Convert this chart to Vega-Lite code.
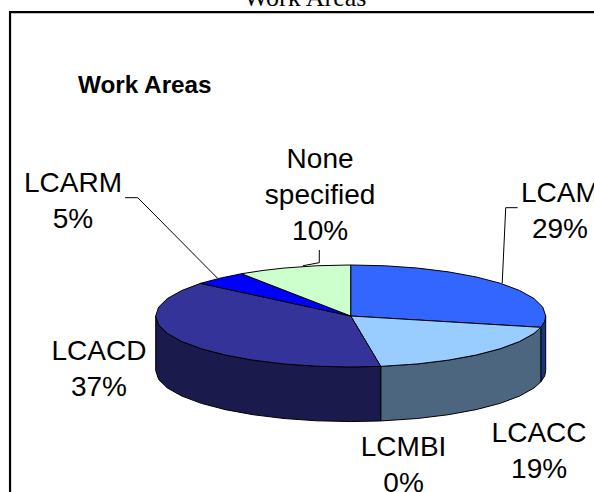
{"$schema":"https://vega.github.io/schema/vega-lite/v6.json","width":594,"height":492,"padding":0,"autosize":{"type":"none"},"background":"white","view":{"stroke":null},
"datasets":{"pie":[
{"piece":"LCAM side","i":0,"x":100,"y":0},{"piece":"LCAM side","i":1,"x":99.5,"y":-10.5},{"piece":"LCAM side","i":2,"x":97.5,"y":-22.2},{"piece":"LCAM side","i":3,"x":97.5,"y":-129.2},{"piece":"LCAM side","i":4,"x":99.5,"y":-117.5},{"piece":"LCAM side","i":5,"x":100,"y":-107},{"piece":"LCAM side","i":6,"x":100,"y":0},
{"piece":"LCACC side","i":0,"x":97.5,"y":-22.2},{"piece":"LCACC side","i":1,"x":94,"y":-34.2},{"piece":"LCACC side","i":2,"x":86.6,"y":-50},{"piece":"LCACC side","i":3,"x":76.6,"y":-64.3},{"piece":"LCACC side","i":4,"x":64.3,"y":-76.6},{"piece":"LCACC side","i":5,"x":50,"y":-86.6},{"piece":"LCACC side","i":6,"x":34.2,"y":-94},{"piece":"LCACC side","i":7,"x":15.4,"y":-98.8},{"piece":"LCACC side","i":8,"x":15.4,"y":-205.8},{"piece":"LCACC side","i":9,"x":34.2,"y":-201},{"piece":"LCACC side","i":10,"x":50,"y":-193.6},{"piece":"LCACC side","i":11,"x":64.3,"y":-183.6},{"piece":"LCACC side","i":12,"x":76.6,"y":-171.3},{"piece":"LCACC side","i":13,"x":86.6,"y":-157},{"piece":"LCACC side","i":14,"x":94,"y":-141.2},{"piece":"LCACC side","i":15,"x":97.5,"y":-129.2},{"piece":"LCACC side","i":16,"x":97.5,"y":-22.2},
{"piece":"LCACD side","i":0,"x":15.4,"y":-98.8},{"piece":"LCACD side","i":1,"x":0,"y":-100},{"piece":"LCACD side","i":2,"x":-17.4,"y":-98.5},{"piece":"LCACD side","i":3,"x":-34.2,"y":-94},{"piece":"LCACD side","i":4,"x":-50,"y":-86.6},{"piece":"LCACD side","i":5,"x":-64.3,"y":-76.6},{"piece":"LCACD side","i":6,"x":-76.6,"y":-64.3},{"piece":"LCACD side","i":7,"x":-86.6,"y":-50},{"piece":"LCACD side","i":8,"x":-94,"y":-34.2},{"piece":"LCACD side","i":9,"x":-98.5,"y":-17.4},{"piece":"LCACD side","i":10,"x":-100,"y":0},{"piece":"LCACD side","i":11,"x":-100,"y":-107},{"piece":"LCACD side","i":12,"x":-98.5,"y":-124.4},{"piece":"LCACD side","i":13,"x":-94,"y":-141.2},{"piece":"LCACD side","i":14,"x":-86.6,"y":-157},{"piece":"LCACD side","i":15,"x":-76.6,"y":-171.3},{"piece":"LCACD side","i":16,"x":-64.3,"y":-183.6},{"piece":"LCACD side","i":17,"x":-50,"y":-193.6},{"piece":"LCACD side","i":18,"x":-34.2,"y":-201},{"piece":"LCACD side","i":19,"x":-17.4,"y":-205.5},{"piece":"LCACD side","i":20,"x":0,"y":-207},{"piece":"LCACD side","i":21,"x":15.4,"y":-205.8},{"piece":"LCACD side","i":22,"x":15.4,"y":-98.8},
{"piece":"LCAM","i":0,"x":0,"y":0},{"piece":"LCAM","i":1,"x":0,"y":100},{"piece":"LCAM","i":2,"x":17.4,"y":98.5},{"piece":"LCAM","i":3,"x":34.2,"y":94},{"piece":"LCAM","i":4,"x":50,"y":86.6},{"piece":"LCAM","i":5,"x":64.3,"y":76.6},{"piece":"LCAM","i":6,"x":76.6,"y":64.3},{"piece":"LCAM","i":7,"x":86.6,"y":50},{"piece":"LCAM","i":8,"x":94,"y":34.2},{"piece":"LCAM","i":9,"x":98.5,"y":17.4},{"piece":"LCAM","i":10,"x":100,"y":0},{"piece":"LCAM","i":11,"x":99.5,"y":-10.5},{"piece":"LCAM","i":12,"x":97.5,"y":-22.2},{"piece":"LCAM","i":13,"x":0,"y":0},
{"piece":"LCACC","i":0,"x":0,"y":0},{"piece":"LCACC","i":1,"x":97.5,"y":-22.2},{"piece":"LCACC","i":2,"x":94,"y":-34.2},{"piece":"LCACC","i":3,"x":86.6,"y":-50},{"piece":"LCACC","i":4,"x":76.6,"y":-64.3},{"piece":"LCACC","i":5,"x":64.3,"y":-76.6},{"piece":"LCACC","i":6,"x":50,"y":-86.6},{"piece":"LCACC","i":7,"x":34.2,"y":-94},{"piece":"LCACC","i":8,"x":15.4,"y":-98.8},{"piece":"LCACC","i":9,"x":0,"y":0},
{"piece":"LCACD","i":0,"x":0,"y":0},{"piece":"LCACD","i":1,"x":15.4,"y":-98.8},{"piece":"LCACD","i":2,"x":0,"y":-100},{"piece":"LCACD","i":3,"x":-17.4,"y":-98.5},{"piece":"LCACD","i":4,"x":-34.2,"y":-94},{"piece":"LCACD","i":5,"x":-50,"y":-86.6},{"piece":"LCACD","i":6,"x":-64.3,"y":-76.6},{"piece":"LCACD","i":7,"x":-76.6,"y":-64.3},{"piece":"LCACD","i":8,"x":-86.6,"y":-50},{"piece":"LCACD","i":9,"x":-94,"y":-34.2},{"piece":"LCACD","i":10,"x":-98.5,"y":-17.4},{"piece":"LCACD","i":11,"x":-100,"y":0},{"piece":"LCACD","i":12,"x":-98.5,"y":17.4},{"piece":"LCACD","i":13,"x":-94,"y":34.2},{"piece":"LCACD","i":14,"x":-86.6,"y":50},{"piece":"LCACD","i":15,"x":-77,"y":64},{"piece":"LCACD","i":16,"x":0,"y":0},
{"piece":"LCARM","i":0,"x":0,"y":0},{"piece":"LCARM","i":1,"x":-77,"y":64},{"piece":"LCARM","i":2,"x":-67,"y":74.2},{"piece":"LCARM","i":3,"x":-56,"y":82.9},{"piece":"LCARM","i":4,"x":0,"y":0},
{"piece":"None specified","i":0,"x":0,"y":0},{"piece":"None specified","i":1,"x":-56,"y":82.9},{"piece":"None specified","i":2,"x":-45,"y":89.3},{"piece":"None specified","i":3,"x":-34.2,"y":94},{"piece":"None specified","i":4,"x":-17.4,"y":98.5},{"piece":"None specified","i":5,"x":0,"y":100},{"piece":"None specified","i":6,"x":0,"y":0}
],
"leaders":[
{"s":"frame","i":0,"x":-174.7,"y":-345.1},{"s":"frame","i":1,"x":-174.7,"y":596},{"s":"frame","i":2,"x":124.77,"y":596},
{"s":"LCARM","i":0,"x":-115.7,"y":232},{"s":"LCARM","i":1,"x":-109.2,"y":232},{"s":"LCARM","i":2,"x":-68.4,"y":74.5},
{"s":"None","i":0,"x":-16.1,"y":129.4},{"s":"None","i":1,"x":-16.1,"y":104.5},{"s":"None","i":2,"x":-24.5,"y":98.6},
{"s":"LCAM","i":0,"x":85.6,"y":212.4},{"s":"LCAM","i":1,"x":79.5,"y":212.4},{"s":"LCAM","i":2,"x":77.7,"y":64.1}
],
"labels":[
{"t":"LCARM\n5%","x":-142.4,"y":243.7},{"t":"None\nspecified\n10%","x":-15.7,"y":290.2},{"t":"LCAM\n29%","x":107.3,"y":224.1},{"t":"LCACD\n37%","x":-129.1,"y":-86.3},{"t":"LCMBI\n0%","x":27.1,"y":-273.9},{"t":"LCACC\n19%","x":96.6,"y":-246.5}
]},
"layer":[
{"data":{"name":"leaders"},"transform":[{"filter":"datum.s === 'frame'"}],"mark":{"type":"line","stroke":"black","strokeWidth":2.2,"clip":true},"encoding":{"x":{"field":"x","type":"quantitative","scale":{"domain":[-179.85,124.77]},"axis":null},"y":{"field":"y","type":"quantitative","scale":{"domain":[-345.1,619.6]},"axis":null},"order":{"field":"i"},"detail":{"field":"s"}}},
{"data":{"name":"pie"},"mark":{"type":"line","stroke":"black","strokeWidth":1,"strokeJoin":"round"},"encoding":{"x":{"field":"x","type":"quantitative","scale":{"domain":[-179.85,124.77]},"axis":null},"y":{"field":"y","type":"quantitative","scale":{"domain":[-345.1,619.6]},"axis":null},"order":{"field":"i"},"detail":{"field":"piece"},"fill":{"field":"piece","type":"nominal","legend":null,"sort":null,"scale":{"domain":["LCAM side","LCACC side","LCACD side","LCAM","LCACC","LCACD","LCARM","None specified"],"range":["#1a3380","#4d6680","#1a1a4d","#3366ff","#99ccff","#333399","#0000ff","#ccffcc"]}}}},
{"data":{"name":"leaders"},"transform":[{"filter":"datum.s !== 'frame'"}],"mark":{"type":"line","stroke":"black","strokeWidth":1},"encoding":{"x":{"field":"x","type":"quantitative","scale":{"domain":[-179.85,124.77]},"axis":null},"y":{"field":"y","type":"quantitative","scale":{"domain":[-345.1,619.6]},"axis":null},"order":{"field":"i"},"detail":{"field":"s"}}},
{"data":{"name":"labels"},"mark":{"type":"text","font":"Liberation Sans","fontSize":28,"lineBreak":"\n","lineHeight":36,"align":"center","baseline":"alphabetic","color":"black"},"encoding":{"x":{"field":"x","type":"quantitative","scale":{"domain":[-179.85,124.77]},"axis":null},"y":{"field":"y","type":"quantitative","scale":{"domain":[-345.1,619.6]},"axis":null},"text":{"field":"t"}}},
{"data":{"values":[{"t":"Work Areas","x":-105.6,"y":436.3}]},"mark":{"type":"text","font":"Liberation Sans","fontWeight":"bold","fontSize":24.3,"align":"center","baseline":"alphabetic","color":"black"},"encoding":{"x":{"field":"x","type":"quantitative","scale":{"domain":[-179.85,124.77]},"axis":null},"y":{"field":"y","type":"quantitative","scale":{"domain":[-345.1,619.6]},"axis":null},"text":{"field":"t"}}},
{"data":{"values":[{"t":"Work Areas","x":-23.4,"y":607}]},"mark":{"type":"text","font":"Liberation Serif","fontSize":26,"align":"center","baseline":"alphabetic","color":"black"},"encoding":{"x":{"field":"x","type":"quantitative","scale":{"domain":[-179.85,124.77]},"axis":null},"y":{"field":"y","type":"quantitative","scale":{"domain":[-345.1,619.6]},"axis":null},"text":{"field":"t"}}}
]}
